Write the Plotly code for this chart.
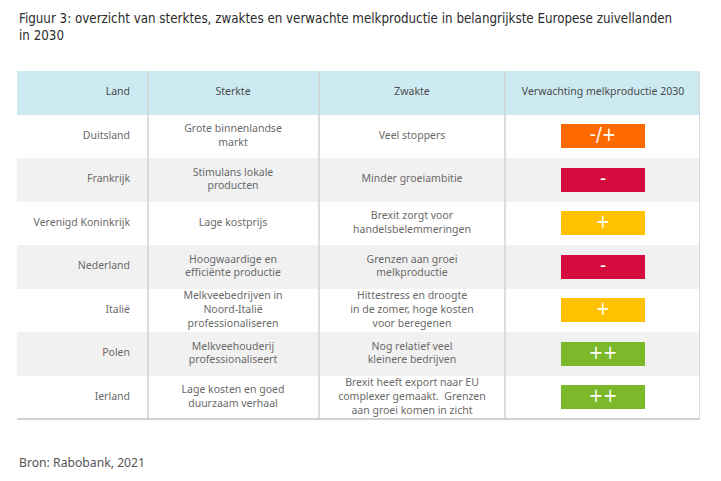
import plotly.graph_objects as go

# ---------------- data ----------------
header_labels = ["Land", "Sterkte", "Zwakte", "Verwachting melkproductie 2030"]
landen = ["Duitsland", "Frankrijk", "Verenigd Koninkrijk", "Nederland", "Italië", "Polen", "Ierland"]
sterkte = [
    "Grote binnenlandse<br>markt",
    "Stimulans lokale<br>producten",
    "Lage kostprijs",
    "Hoogwaardige en<br>efficiënte productie",
    "Melkveebedrijven in<br>Noord-Italië<br>professionaliseren",
    "Melkveehouderij<br>professionaliseert",
    "Lage kosten en goed<br>duurzaam verhaal",
]
zwakte = [
    "Veel stoppers",
    "Minder groeiambitie",
    "Brexit zorgt voor<br>handelsbelemmeringen",
    "Grenzen aan groei<br>melkproductie",
    "Hittestress en droogte<br>in de zomer, hoge kosten<br>voor beregenen",
    "Nog relatief veel<br>kleinere bedrijven",
    "Brexit heeft export naar EU<br>complexer gemaakt.  Grenzen<br>aan groei komen in zicht",
]
verwachting = ["-/+", "-", "+", "-", "+", "++", "++"]
source_text = "Bron: Rabobank, 2021"
title_text = ("Figuur 3: overzicht van sterktes, zwaktes en verwachte melkproductie in "
              "belangrijkste Europese zuivellanden<br>in 2030")

# ---------------- styling / layout ----------------
score_colors = {"-/+": "#FF6A00", "-": "#D50B3E", "+": "#FFC100", "++": "#7BB82A"}
header_fill = "#CDEAF2"
row_fills = ["#FFFFFF", "#F1F1F1"]
text_color = "#6A6A6A"
header_color = "#4A4A4A"
grid_color = "#D2D2D2"
font_body = "Noto Sans"

TABLE_W = 683
COL_BOUNDS = [131, 302, 488, 683]
LAND_RIGHT = 113
STERKTE_X = 216
ZWAKTE_X = 395
VERW_X = 586
BOX_BASE = 544
BOX_W = 84

rows = ["__header__"] + landen

fig = go.Figure()

# row backgrounds
fig.add_trace(go.Bar(
    y=rows, x=[TABLE_W] * len(rows), base=0, orientation="h", width=1,
    marker=dict(color=[header_fill] + [row_fills[i % 2] for i in range(len(landen))], line=dict(width=0)),
    hoverinfo="skip", showlegend=False,
))

# score boxes
fig.add_trace(go.Bar(
    y=landen, x=[BOX_W] * len(landen), base=BOX_BASE, orientation="h", width=0.55,
    marker=dict(color=[score_colors[v] for v in verwachting], line=dict(width=0)),
    hoverinfo="skip", showlegend=False,
))
# score labels
fig.add_trace(go.Scatter(
    x=[VERW_X] * len(landen), y=landen, mode="text", text=verwachting,
    textposition="middle center", textfont=dict(color="white", size=19, family="DejaVu Sans Condensed"),
    hoverinfo="skip", showlegend=False,
))

# header text
fig.add_trace(go.Scatter(
    x=[LAND_RIGHT], y=["__header__"], mode="text", text=[header_labels[0]],
    textposition="middle left", textfont=dict(color=header_color, size=10.5, family=font_body),
    hoverinfo="skip", showlegend=False,
))
fig.add_trace(go.Scatter(
    x=[STERKTE_X, ZWAKTE_X, VERW_X], y=["__header__"] * 3, mode="text", text=header_labels[1:],
    textposition="middle center", textfont=dict(color=header_color, size=10.5, family=font_body),
    hoverinfo="skip", showlegend=False,
))

# body text
fig.add_trace(go.Scatter(
    x=[LAND_RIGHT] * len(landen), y=landen, mode="text", text=landen,
    textposition="middle left", textfont=dict(color=text_color, size=10.5, family=font_body),
    hoverinfo="skip", showlegend=False,
))
fig.add_trace(go.Scatter(
    x=[STERKTE_X] * len(landen), y=landen, mode="text", text=sterkte,
    textposition="middle center", textfont=dict(color=text_color, size=10.5, family=font_body),
    hoverinfo="skip", showlegend=False,
))
fig.add_trace(go.Scatter(
    x=[ZWAKTE_X] * len(landen), y=landen, mode="text", text=zwakte,
    textposition="middle center", textfont=dict(color=text_color, size=10.5, family=font_body),
    hoverinfo="skip", showlegend=False,
))

shapes = []
for xb in COL_BOUNDS:
    shapes.append(dict(type="line", xref="x", yref="paper", x0=xb, x1=xb, y0=0, y1=1,
                       line=dict(color=grid_color, width=1.5), layer="above"))
shapes.append(dict(type="line", xref="x", yref="paper", x0=0, x1=TABLE_W, y0=0, y1=0,
                   line=dict(color=grid_color, width=2), layer="above"))

fig.update_layout(
    width=705, height=465,
    margin=dict(l=9, r=13, t=63, b=54),
    paper_bgcolor="white", plot_bgcolor="white",
    barmode="overlay", bargap=0,
    xaxis=dict(range=[0, TABLE_W], visible=False, fixedrange=True),
    yaxis=dict(categoryorder="array", categoryarray=rows, autorange="reversed",
               visible=False, fixedrange=True),
    shapes=shapes,
    annotations=[
        dict(text=title_text, xref="paper", yref="paper", x=0, y=1.178, xanchor="left", yanchor="top",
             align="left", showarrow=False,
             font=dict(family="DejaVu Sans Condensed, sans-serif", size=13.25, color="#2B2B2B")),
        dict(text=source_text, xref="paper", yref="paper", x=0, y=-0.124, xanchor="left", yanchor="middle",
             showarrow=False, font=dict(family=font_body, size=12.2, color="#555555")),
    ],
    hovermode=False,
)

fig.write_html("out.html")
